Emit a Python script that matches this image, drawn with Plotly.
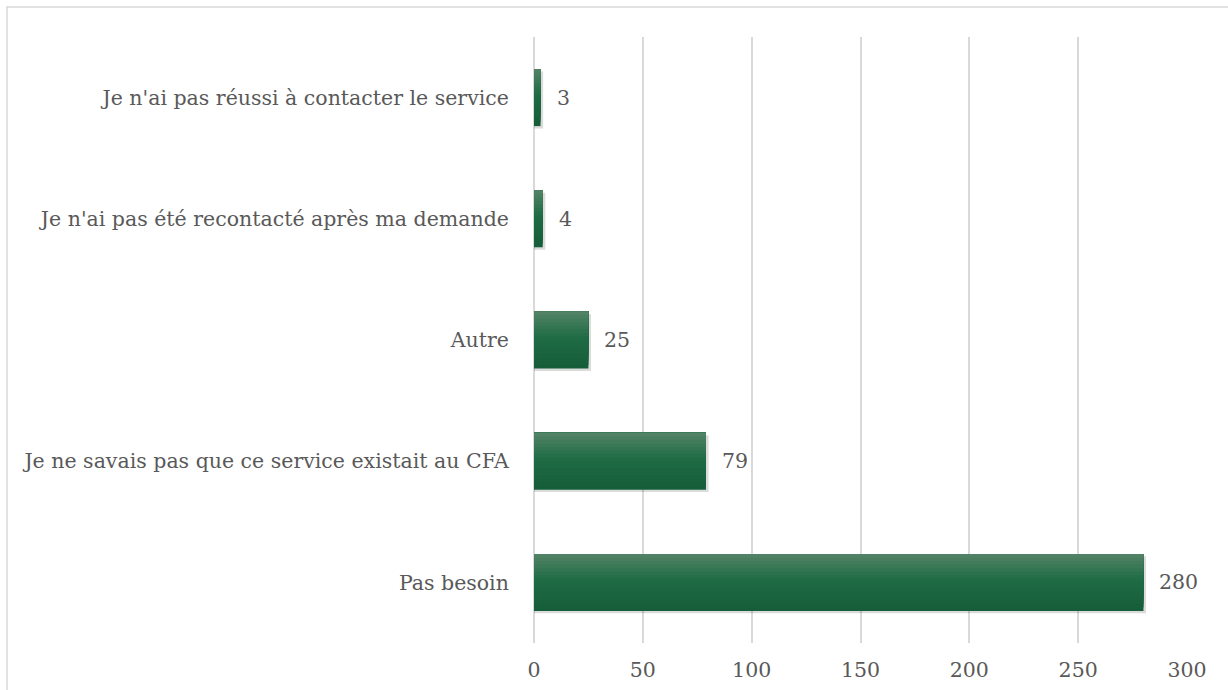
import plotly.graph_objects as go

categories = [
    "Pas besoin",
    "Je ne savais pas que ce service existait au CFA",
    "Autre",
    "Je n'ai pas été recontacté après ma demande",
    "Je n'ai pas réussi à contacter le service",
]
values = [280, 79, 25, 4, 3]
tick_vals = [0, 50, 100, 150, 200, 250, 300]

FONT = "DejaVu Serif"
TXT = "#595959"

fig = go.Figure()

bar_w = 0.47
# soft shadow
fig.add_trace(go.Bar(
    y=categories, x=[v + 1.2 for v in values], orientation="h", width=bar_w, offset=-bar_w / 2 - 0.02,
    marker=dict(color="rgba(0,0,0,0.14)", line=dict(width=0)),
    hoverinfo="skip", showlegend=False,
))

# gradient bar built from stacked overlapping slices (each reaches the top edge)
top = (0x52, 0x82, 0x65)
mid = (0x1f, 0x6c, 0x45)
bot = (0x16, 0x5e, 0x3a)
n = 16
for i in range(n):
    t = i / (n - 1)  # 0 = bottom, 1 = top
    if t > 0.55:
        u = (t - 0.55) / 0.45
        c = tuple(int(mid[k] + (top[k] - mid[k]) * u) for k in range(3))
    else:
        u = t / 0.55
        c = tuple(int(bot[k] + (mid[k] - bot[k]) * u) for k in range(3))
    start = -bar_w / 2 + i * bar_w / n
    fig.add_trace(go.Bar(
        y=categories, x=values, orientation="h",
        width=bar_w / 2 - start, offset=start,
        marker=dict(color="rgb(%d,%d,%d)" % c, line=dict(width=0)),
        hoverinfo="skip", showlegend=False,
    ))

annotations = [
    dict(x=v, y=c, xref="x", yref="y", text=str(v), showarrow=False,
         xanchor="left", yanchor="middle", xshift=14,
         font=dict(family=FONT, size=20.5, color=TXT))
    for c, v in zip(categories, values)
]

fig.update_layout(
    barmode="overlay",
    width=1228, height=690, autosize=False,
    margin=dict(l=534, r=41, t=37, b=47, pad=0),
    paper_bgcolor="white", plot_bgcolor="white",
    font=dict(family=FONT, size=20.5, color=TXT),
    xaxis=dict(
        range=[0, 300], tickvals=tick_vals, showgrid=True, gridcolor="#d9d9d9", gridwidth=1.5,
        zeroline=True, zerolinecolor="#d9d9d9", zerolinewidth=1.5, automargin=False,
        ticks="outside", ticklen=8, tickcolor="rgba(0,0,0,0)",
        tickfont=dict(family=FONT, size=20.5, color=TXT), fixedrange=True,
    ),
    yaxis=dict(
        categoryorder="array", categoryarray=categories, automargin=False,
        ticks="outside", ticklen=20, tickcolor="rgba(0,0,0,0)",
        tickfont=dict(family=FONT, size=20.5, color=TXT), showgrid=False, fixedrange=True,
    ),
    annotations=annotations,
    shapes=[dict(
        type="rect", xref="paper", yref="paper",
        x0=(7 - 534) / 653, x1=(1240 - 534) / 653,
        y0=(643 - 700) / 606, y1=(643 - 7) / 606,
        line=dict(color="#d9d9d9", width=1.5), fillcolor="rgba(0,0,0,0)", layer="below",
    )],
)

fig.write_html("out.html", config={"displayModeBar": False},
               post_script="document.body.style.margin='0';document.body.style.overflow='hidden';")
